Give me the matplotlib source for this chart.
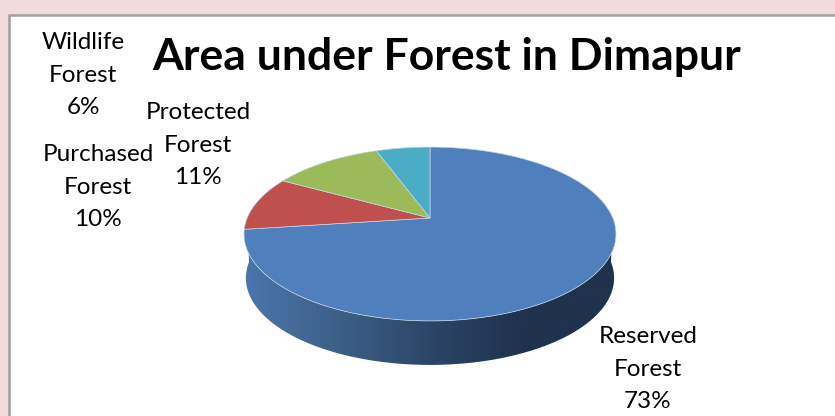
import numpy as np
import matplotlib
matplotlib.use("Agg")
import matplotlib.pyplot as plt
from matplotlib.patches import Rectangle, PathPatch
from matplotlib.path import Path
from matplotlib.colors import LinearSegmentedColormap

categories = ["Reserved\nForest", "Purchased\nForest", "Protected\nForest", "Wildlife\nForest"]
values = [72.9, 10.1, 11.4, 5.6]
colors = ["#4F7FBC", "#C0504D", "#9BBB59", "#4BACC6"]
title = "Area under Forest in Dimapur"

W, H = 835, 416
plt.rcParams["font.family"] = ["Lato", "DejaVu Sans"]
fig = plt.figure(figsize=(W / 100, H / 100), dpi=100, facecolor="#F2DCDB")
ax = fig.add_axes([0, 0, 1, 1])
ax.set_xlim(0, W)
ax.set_ylim(H, 0)
ax.axis("off")

ax.add_patch(Rectangle((8.5, 14.5), W, H, facecolor="white", edgecolor="#A0A0A0", lw=1.8, zorder=0))

# perspective view of the unit disc
cx, cy, a, h, k, depth = 430, 218, 182.8, 84, 0.184, 44


def project(theta, r=1.0, drop=0.0):
    u, v = r * np.sin(theta), r * np.cos(theta)
    w = 1 + k * v
    return cx + a * u / w, cy - h * v / w + drop


# side wall
edge = np.linspace(np.radians(90), np.radians(270), 200)
tx, ty = project(edge)
bx, by = project(edge, drop=depth)
bx = cx + (bx - cx) * 0.99
side = np.column_stack([np.r_[tx, bx[::-1]], np.r_[ty, by[::-1]]])
cmap = LinearSegmentedColormap.from_list(
    "wall", ["#1F324E", "#1F324E", "#2C4668", "#3D6088", "#4A76AC"])
grad = np.linspace(0, 1, 256)[None, :]
im = ax.imshow(grad[:, ::-1], extent=(244, 615, H, 0), cmap=cmap, aspect="auto", zorder=1)
im.set_clip_path(PathPatch(Path(side), transform=ax.transData))
ax.set_xlim(0, W)
ax.set_ylim(H, 0)

# top face
fractions = np.cumsum([0] + values) / sum(values) * 2 * np.pi
for start, end, col in zip(fractions[:-1], fractions[1:], colors):
    t = np.linspace(start, end, 120)
    x, y = project(t)
    ax.fill(np.r_[cx, x], np.r_[cy, y], facecolor=col, edgecolor="#C9D6E8", lw=0.5, zorder=2)

ax.text(447, 57, title, fontsize=32, fontweight="bold", ha="center", va="center", color="black", zorder=3)

label_pos = [(648, 369), (98, 187), (198, 145), (83, 75)]
for name, val, (lx, ly) in zip(categories, values, label_pos):
    ax.text(lx, ly, f"{name}\n{round(val)}%", fontsize=17.5, ha="center", va="center",
            linespacing=1.67, color="black", zorder=3)

fig.savefig("out.png", dpi=100, facecolor=fig.get_facecolor())
